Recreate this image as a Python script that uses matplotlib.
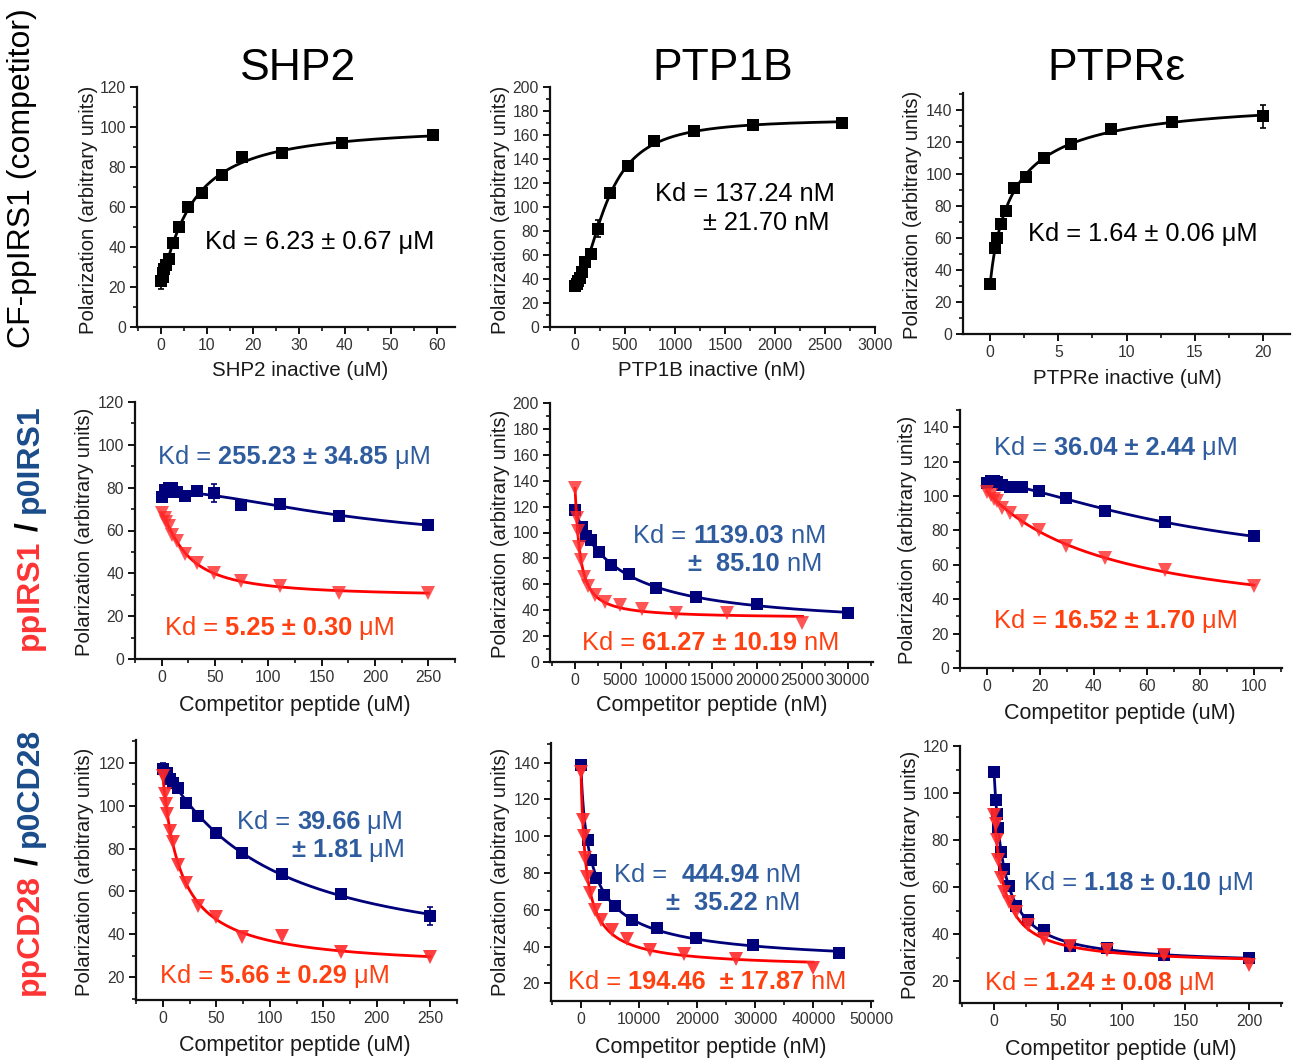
import numpy as np
import matplotlib
matplotlib.use("Agg")
import matplotlib.pyplot as plt
from matplotlib.ticker import MultipleLocator

plt.rcParams['font.family'] = ['Liberation Sans', 'DejaVu Sans']

# ---------------- data ----------------
# Row 1: direct binding (CF-ppIRS1 with inactive phosphatase)
shp2_bind_x = [0, 0.35, 0.52, 0.78, 1.17, 1.76, 2.63, 3.95, 5.93, 8.89, 13.3, 17.6, 26.4, 39.5, 59.3]
shp2_bind_y = [23, 25, 27, 29, 31, 34, 42, 50, 60, 67, 76, 85, 87, 92, 96]
shp2_bind_err = [4, 2, 2, 2, 2, 2, 2, 2, 1, 1, 1, 1, 1, 1, 1]

ptp1b_bind_x = [0, 20, 31, 46, 69, 104, 156, 234, 351, 527, 790, 1185, 1778, 2667]
ptp1b_bind_y = [34, 36, 38, 41, 46, 54, 61, 82, 112, 134, 155, 163, 168, 170]
ptp1b_bind_err = [4, 2, 2, 2, 2, 2, 2, 7, 2, 2, 2, 2, 2, 2]

ptpre_bind_x = [0, 0.35, 0.52, 0.78, 1.17, 1.76, 2.63, 3.95, 5.93, 8.89, 13.33, 20]
ptpre_bind_y = [31, 54, 60, 69, 77, 91, 98, 110, 119, 128, 132.5, 136]
ptpre_bind_err = [1, 1, 1, 1, 1, 1, 1, 1, 1, 1, 1, 7]

# Row 2: ppIRS1 (red) / p0IRS1 (blue) competition
shp2_irs1_x = [0, 2.9, 4.3, 6.5, 9.75, 14.6, 21.9, 32.9, 49.4, 74.1, 111.1, 166.7, 250]
shp2_p0irs1_y = [75.5, 79, 78, 80, 80, 78, 76, 78.5, 77.5, 72, 72.5, 67, 62.5]
shp2_p0irs1_err = [1, 1, 1, 1, 1, 1, 1, 1, 4, 1, 1, 1, 1]
shp2_ppirs1_y = [68, 66, 64, 62, 58, 55, 49, 45, 40, 36.5, 34, 31, 31]

ptp1b_p0irs1_x = [0, 780, 1171, 1756, 2634, 3951, 5926, 8889, 13333, 20000, 30000]
ptp1b_p0irs1_y = [117, 104, 97, 94, 85, 75, 68, 57.5, 50, 44.5, 37.5]
ptp1b_ppirs1_x = [0, 193, 289, 433, 650, 975, 1463, 2195, 3292, 4938, 7407, 11111, 16667, 25000]
ptp1b_ppirs1_y = [134, 111, 101, 89, 79, 66, 59, 52, 46, 44, 41, 38, 38, 30]

ptpre_irs1_x = [0, 1.73, 2.6, 3.9, 5.85, 8.78, 13.2, 19.75, 29.6, 44.4, 66.7, 100]
ptpre_p0irs1_y = [107.5, 109, 108.5, 108, 106.5, 105, 105, 103, 99, 91.5, 85, 76.5]
ptpre_ppirs1_y = [102.5, 100.5, 98.5, 97, 93, 90, 85.5, 80, 71, 64, 57, 47.5]

# Row 3: ppCD28 (red) / p0CD28 (blue) competition
shp2_p0cd28_x = [0, 4.3, 6.5, 9.75, 14.6, 21.9, 32.9, 49.4, 74.1, 111.1, 166.7, 250]
shp2_p0cd28_y = [117, 115.5, 112.5, 110.5, 108.5, 101.5, 95, 87.5, 78, 68, 59, 48.5]
shp2_p0cd28_err = [3, 1, 1, 1, 1, 1, 1, 1, 1, 1, 1, 4]
shp2_ppcd28_x = [0, 1.9, 2.9, 4.3, 6.5, 9.75, 14.6, 21.9, 32.9, 49.4, 74.1, 111.1, 166.7, 250]
shp2_ppcd28_y = [114, 105.5, 101, 96, 88, 83, 72.5, 64, 53, 48, 38.5, 39, 31.5, 29.5]

ptp1b_p0cd28_x = [0, 1156, 1734, 2601, 3902, 5853, 8779, 13169, 19753, 29630, 44444]
ptp1b_p0cd28_y = [139, 98, 87, 77.5, 68, 62, 54.5, 50, 44.5, 41, 36.5]
ptp1b_ppcd28_x = [0, 308, 462, 694, 1040, 1561, 2341, 3512, 5267, 7901, 11852, 17778, 26667, 40000]
ptp1b_ppcd28_y = [135, 109, 100, 88, 78, 69, 60, 54.5, 49, 44, 38, 36, 33, 28.5]

ptpre_cd28_x = [0, 1.54, 2.3, 3.5, 5.2, 7.8, 11.7, 17.6, 26.3, 39.5, 59.3, 88.9, 133.3, 200]
ptpre_p0cd28_y = [109, 97, 91, 85, 75, 67.5, 60.5, 52, 46, 41.5, 35, 34, 31, 30]
ptpre_ppcd28_y = [90.5, 87, 80, 71.5, 64, 58, 53.5, 49.5, 44, 38, 35, 33, 31, 27]

col_titles = ["SHP2", "PTP1B", "PTPRε"]

# ---------------- styling ----------------
W, H = 1293, 1063
fig = plt.figure(figsize=(W / 100, H / 100), dpi=100)

NAVY = '#00007A'
RED = '#FF2A2A'
LINE_RED = '#FF0000'
KD_BLUE = '#2E5C9E'
KD_RED = '#FF4010'
LAB_RED = '#FF3333'
LAB_BLUE = '#1A4C8B'
TICK_COL = '#333333'
KD_SIZE = 18.3


def add_ax(left, top, right, bottom):
    return fig.add_axes([left / W, 1 - bottom / H, (right - left) / W, (bottom - top) / H])


def style(ax, xlim, ylim, xmaj, ymaj):
    ax.set_xlim(*xlim)
    ax.set_ylim(*ylim)
    for s in ['top', 'right']:
        ax.spines[s].set_visible(False)
    for s in ['left', 'bottom']:
        ax.spines[s].set_linewidth(1.6)
        ax.spines[s].set_color('#111111')
    ax.xaxis.set_major_locator(MultipleLocator(xmaj))
    ax.xaxis.set_minor_locator(MultipleLocator(xmaj / 2))
    ax.yaxis.set_major_locator(MultipleLocator(ymaj))
    ax.yaxis.set_minor_locator(MultipleLocator(ymaj / 2))
    ax.tick_params(which='major', direction='out', length=5, width=1.4,
                   labelsize=11.3, labelcolor=TICK_COL, color='#111111', pad=3)
    ax.tick_params(which='minor', direction='out', length=3, width=1.2, color='#111111')
    ax.patch.set_alpha(0)


def hill_fit(x, y):
    x = np.asarray(x, float)
    y = np.asarray(y, float)
    xpos = x[x > 0]
    Ks = np.logspace(np.log10(xpos.min() / 5), np.log10(x.max() * 5), 160)
    ns = np.linspace(0.5, 3.0, 26)
    best = None
    for K in Ks:
        for n in ns:
            f = x ** n / (K ** n + x ** n)
            M = np.column_stack([np.ones_like(f), f])
            coef, *_ = np.linalg.lstsq(M, y, rcond=None)
            sse = float(((M @ coef - y) ** 2).sum())
            if best is None or sse < best[0]:
                best = (sse, K, n, coef)
    _, K, n, coef = best
    xs = np.linspace(x.min(), x.max(), 400)
    f = xs ** n / (K ** n + xs ** n)
    return xs, coef[0] + coef[1] * f


def plot_series(ax, x, y, marker, mcolor, lcolor, ms, err=None, alpha=1.0, lw=2.0, z=3):
    xs, ys = hill_fit(x, y)
    ax.plot(xs, ys, color=lcolor, lw=lw, zorder=z)
    if err is not None:
        ax.errorbar(x, y, yerr=err, fmt='none', ecolor=mcolor, elinewidth=1.2,
                    capsize=2.5, capthick=1.2, zorder=z + 1)
    ax.plot(x, y, linestyle='none', marker=marker, color=mcolor, ms=ms,
            alpha=alpha, zorder=z + 1, markeredgewidth=0)


def rich(x_px, y_px, segments, size, color):
    """segments: list of (text, bold). x: left edge, y: baseline (reference pixels)."""
    renderer = fig.canvas.get_renderer()
    dx, dy = x_px, H - y_px
    for txt, bold in segments:
        t = fig.text(dx / W, dy / H, txt, fontsize=size, color=color,
                     fontweight='bold' if bold else 'normal',
                     ha='left', va='baseline')
        bb = t.get_window_extent(renderer=renderer)
        dx = bb.x1


def rich_rot(x_base, y_start, parts, size):
    renderer = fig.canvas.get_renderer()
    dy = H - y_start
    for txt, col, bold in parts:
        t = fig.text(x_base / W, dy / H, txt, fontsize=size, color=col,
                     fontweight='bold' if bold else 'normal',
                     ha='left', va='baseline', rotation=90, rotation_mode='anchor')
        bb = t.get_window_extent(renderer=renderer)
        dy = bb.y1


def label(x, y, txt, size, rot=0, color='#1a1a1a', **kw):
    fig.text(x / W, 1 - y / H, txt, fontsize=size, rotation=rot, color=color,
             ha='center', va='center', **kw)


# ---------------- Row 1 ----------------
ax = add_ax(137, 87, 455, 327)
style(ax, (-5.2, 64), (0, 120), 10, 20)
plot_series(ax, shp2_bind_x, shp2_bind_y, 's', 'black', 'black', 8.5, err=shp2_bind_err)

ax = add_ax(550, 87, 875, 327)
style(ax, (-250, 3000), (0, 200), 500, 20)
plot_series(ax, ptp1b_bind_x, ptp1b_bind_y, 's', 'black', 'black', 8.5, err=ptp1b_bind_err)

ax = add_ax(963, 93, 1290, 334)
style(ax, (-2, 22), (0, 150.6), 5, 20)
plot_series(ax, ptpre_bind_x, ptpre_bind_y, 's', 'black', 'black', 8.5, err=ptpre_bind_err)

# ---------------- Row 2 ----------------
ax = add_ax(135, 402, 455, 659)
style(ax, (-25, 275), (0, 120), 50, 20)
plot_series(ax, shp2_irs1_x, shp2_p0irs1_y, 's', NAVY, NAVY, 8.5, err=shp2_p0irs1_err)
plot_series(ax, shp2_irs1_x, shp2_ppirs1_y, 'v', RED, LINE_RED, 10, alpha=0.8, z=5)

ax = add_ax(550, 403, 873, 662)
style(ax, (-2750, 32750), (0, 200), 5000, 20)
plot_series(ax, ptp1b_p0irs1_x, ptp1b_p0irs1_y, 's', NAVY, NAVY, 8.5)
plot_series(ax, ptp1b_ppirs1_x, ptp1b_ppirs1_y, 'v', RED, LINE_RED, 10, alpha=0.8, z=5)

ax = add_ax(960, 410, 1282, 668)
style(ax, (-10, 110.5), (0, 150), 20, 20)
plot_series(ax, ptpre_irs1_x, ptpre_p0irs1_y, 's', NAVY, NAVY, 8.5)
plot_series(ax, ptpre_irs1_x, ptpre_ppirs1_y, 'v', RED, LINE_RED, 10, alpha=0.8, z=5)

# ---------------- Row 3 ----------------
ax = add_ax(136, 740, 457, 1000)
style(ax, (-25, 275), (9.3, 130.7), 50, 20)
plot_series(ax, shp2_p0cd28_x, shp2_p0cd28_y, 's', NAVY, NAVY, 8.5, err=shp2_p0cd28_err)
plot_series(ax, shp2_ppcd28_x, shp2_ppcd28_y, 'v', RED, LINE_RED, 10, alpha=0.9, z=5)

ax = add_ax(551, 743, 873, 1001)
style(ax, (-5166, 50275), (10.4, 150.7), 10000, 20)
plot_series(ax, ptp1b_p0cd28_x, ptp1b_p0cd28_y, 's', NAVY, NAVY, 8.5)
plot_series(ax, ptp1b_ppcd28_x, ptp1b_ppcd28_y, 'v', RED, LINE_RED, 10, alpha=0.9, z=5)

ax = add_ax(960, 746, 1282, 1003)
style(ax, (-26.6, 225.6), (10.65, 120), 50, 20)
plot_series(ax, ptpre_cd28_x, ptpre_p0cd28_y, 's', NAVY, NAVY, 8.5)
plot_series(ax, ptpre_cd28_x, ptpre_ppcd28_y, 'v', RED, LINE_RED, 10, alpha=0.9, z=5)

# ---------------- axis labels ----------------
ylab = "Polarization (arbitrary units)"
for (x, y) in [(88, 210), (500, 210), (913, 215), (85, 532), (500, 534), (908, 540),
               (85, 872), (500, 872), (910, 875)]:
    label(x, y, ylab, 14.6, rot=90)

label(300, 371, "SHP2 inactive (uM)", 14.8)
label(712, 371, "PTP1B inactive (nM)", 14.8)
label(1127, 378, "PTPRe inactive (uM)", 14.8)
label(295, 705, "Competitor peptide (uM)", 15.5)
label(712, 705, "Competitor peptide (nM)", 15.5)
label(1120, 714, "Competitor peptide (uM)", 15.5)
label(295, 1045, "Competitor peptide (uM)", 15.5)
label(711, 1048, "Competitor peptide (nM)", 15.5)
label(1121, 1050, "Competitor peptide (uM)", 15.5)

# column titles
for (x, t) in zip([298, 723, 1116], col_titles):
    label(x, 68, t, 32, color='black')

# row labels
label(22, 178, "CF-ppIRS1 (competitor)", 23, rot=90, color='black')
rich_rot(38, 650, [("ppIRS1", LAB_RED, True), (" / ", 'black', True), ("p0IRS1", LAB_BLUE, True)], 23)
rich_rot(38, 995, [("ppCD28", LAB_RED, True), (" / ", 'black', True), ("p0CD28", LAB_BLUE, True)], 23)

# ---------------- Kd annotations ----------------
BL = 8  # baseline offset from visual centre
rich(205, 241 + BL, [("Kd = 6.23 ± 0.67 μM", False)], KD_SIZE, 'black')
rich(655, 193 + BL, [("Kd = 137.24 nM", False)], KD_SIZE, 'black')
rich(703, 222 + BL, [("± 21.70 nM", False)], KD_SIZE, 'black')
rich(1028, 233 + BL, [("Kd = 1.64 ± 0.06 μM", False)], KD_SIZE, 'black')

rich(158, 456 + BL, [("Kd = ", False), ("255.23 ± 34.85", True), (" μM", False)], KD_SIZE, KD_BLUE)
rich(165, 627 + BL, [("Kd = ", False), ("5.25 ± 0.30", True), (" μM", False)], KD_SIZE, KD_RED)
rich(633, 535 + BL, [("Kd = ", False), ("1139.03", True), (" nM", False)], KD_SIZE, KD_BLUE)
rich(688, 563 + BL, [("±  85.10", True), (" nM", False)], KD_SIZE, KD_BLUE)
rich(582, 642 + BL, [("Kd = ", False), ("61.27 ± 10.19", True), (" nM", False)], KD_SIZE, KD_RED)
rich(994, 447 + BL, [("Kd = ", False), ("36.04 ± 2.44", True), (" μM", False)], KD_SIZE, KD_BLUE)
rich(994, 620 + BL, [("Kd = ", False), ("16.52 ± 1.70", True), (" μM", False)], KD_SIZE, KD_RED)

rich(237, 821 + BL, [("Kd = ", False), ("39.66", True), (" μM", False)], KD_SIZE, KD_BLUE)
rich(292, 849 + BL, [("± 1.81", True), (" μM", False)], KD_SIZE, KD_BLUE)
rich(160, 975 + BL, [("Kd = ", False), ("5.66 ± 0.29", True), (" μM", False)], KD_SIZE, KD_RED)
rich(614, 874 + BL, [("Kd =  ", False), ("444.94", True), (" nM", False)], KD_SIZE, KD_BLUE)
rich(666, 902 + BL, [("±  35.22", True), (" nM", False)], KD_SIZE, KD_BLUE)
rich(568, 981 + BL, [("Kd = ", False), ("194.46  ± 17.87", True), (" nM", False)], KD_SIZE, KD_RED)
rich(1024, 882 + BL, [("Kd = ", False), ("1.18 ± 0.10", True), (" μM", False)], KD_SIZE, KD_BLUE)
rich(985, 982 + BL, [("Kd = ", False), ("1.24 ± 0.08", True), (" μM", False)], KD_SIZE, KD_RED)

fig.savefig("out.png", dpi=100)
